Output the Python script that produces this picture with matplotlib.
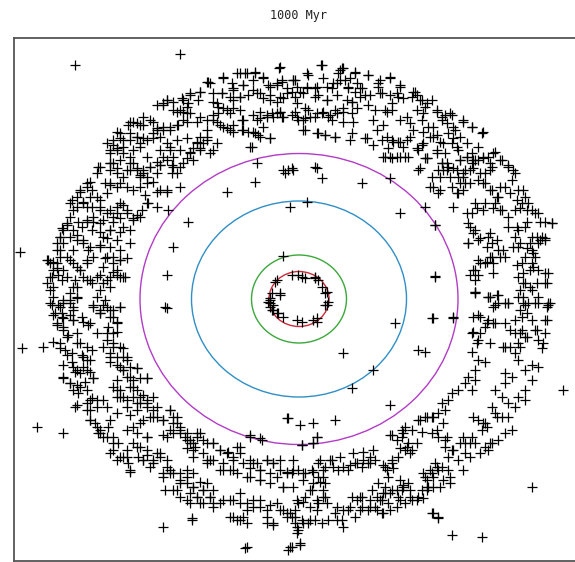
import matplotlib
matplotlib.use("Agg")
import matplotlib.pyplot as plt
from matplotlib.patches import Ellipse
import numpy as np

title = "1000 Myr"

# particle positions (image-pixel coordinates, y downward)
pts_top_left = [
(180,54),(75,65),(279,68),(240,73),(247,73),(255,73),(208,82),(223,78),
(233,88),(243,85),(253,80),(263,78),(270,87),(277,83),(282,80),(287,88),
(222,93),(233,100),(240,97),(248,95),(257,93),(263,98),(270,100),(277,102),(283,98),
(200,92),(190,95),(183,100),(173,102),(167,100),(163,105),
(213,102),(218,107),(227,110),(233,108),(240,110),
(280,112),(282,117),(273,117),(267,115),(260,118),(253,115),(243,120),(242,130),(248,132),
(255,133),(260,137),(270,138),(252,147),
(213,115),(217,122),(223,127),(230,130),(233,125),
(130,122),(137,123),(143,125),(153,122),(157,130),(163,127),(170,130),(177,125),(183,120),
(187,113),(180,110),(173,110),(187,107),
(200,117),(207,120),(207,130),(200,137),(197,143),(193,148),(190,153),(187,158),(200,148),
(210,153),(217,143),(207,140),
(117,132),(120,138),(113,145),(110,153),(117,150),(123,147),(130,140),(137,137),(140,143),
(147,140),(153,133),(160,137),(167,143),(170,150),(163,157),(157,162),(150,167),(143,173),
(140,177),(137,170),(133,163),(130,157),(127,170),(123,177),(117,173),(110,163),(100,167),
(97,173),(90,182),(87,187),(80,190),(77,197),(83,202),(90,197),(100,200),(107,193),(110,183),
(120,183),(127,187),(133,190),(140,187),(147,183),(153,182),(160,190),(167,190),(173,167),
(180,167),(172,173),(180,187),
(157,207),(147,203),(142,210),(137,215),(133,220),(130,230),(123,227),(117,213),(120,203),(127,210),
(67,223),(63,230),(60,237),(57,243),(60,250),(67,257),(73,263),(80,270),(87,263),(93,257),
(90,247),(83,243),(77,240),(73,230),(70,217),(77,207),(70,203),(87,207),(100,207),(107,213),
(113,217),(110,230),(103,237),(100,247),(107,257),(113,263),(120,260),(117,270),(110,277),
(103,283),(97,277),(90,280),(83,277),(77,287),(70,293),(63,300),(53,297),(50,290),(47,283),
(50,277),(53,270),(50,263),(47,260),(57,263),(63,270),(67,277),
(100,223),(93,217),(87,220),(82,227),(120,277),(125,277),
(257,163),(285,173),(255,182),(227,192),(168,210),(188,222),(173,247),(167,275),(165,307),(20,252),
]

pts_top_right = [
(321,65),(342,68),(355,73),(368,75),(338,73),(308,75),(295,80),(292,92),(300,92),(307,87),
(315,88),(318,95),(327,100),(332,88),(337,83),(345,80),(348,87),(355,92),(362,88),(365,95),
(378,83),(382,93),(390,78),(400,87),(398,97),(392,103),(385,110),(375,110),(368,105),(357,108),
(352,102),(343,112),(335,110),(328,117),(322,113),(315,117),(308,110),(305,118),(298,120),
(292,115),(303,130),(318,133),(325,135),(335,137),(352,133),(365,138),(373,145),(382,140),
(388,148),(392,140),(398,142),(403,147),(410,137),(385,157),(392,158),(400,157),(408,157),
(418,150),(422,145),(418,170),(425,158),(415,92),(420,100),(412,97),(425,107),(432,100),
(437,112),(442,120),(445,115),(452,115),(463,120),(472,127),(482,133),(422,120),(428,127),
(433,137),(440,142),(448,133),(455,130),(460,137),(467,143),(478,147),(472,153),(458,150),
(452,143),(445,153),(442,163),(448,167),(438,170),(432,177),(430,187),(438,193),(452,187),
(458,193),(465,183),(458,177),(465,170),(472,163),(478,160),(488,157),(495,152),(502,160),
(508,167),(515,173),(512,180),(505,187),(498,197),(492,190),(485,183),(478,180),(485,173),
(492,167),(518,190),(525,197),(532,210),(538,213),(545,222),(552,223),(528,203),(522,203),
(515,210),(508,217),(502,210),(495,203),(485,203),(475,203),(472,213),(468,223),(475,230),
(468,243),(478,240),(488,237),(492,243),(498,250),(505,257),(492,257),(485,263),(478,260),
(475,270),(475,280),(475,292),(488,297),(498,303),(508,303),(518,277),(525,283),(532,290),
(538,297),(545,283),(548,273),(538,270),(532,263),(525,257),(518,247),(515,237),(518,230),
(525,227),(532,237),(538,243),(542,237),(545,240),(532,250),(535,257),(522,263),(523,297),
(548,303),(528,303),
(315,167),(322,178),(362,183),(400,213),(288,170),(290,207),(307,202),(435,277),(390,178),
(425,207),(435,225),
]

pts_bottom_left = [
(50,303),(58,305),(70,303),(77,298),(53,315),(62,317),(73,320),(83,322),(90,323),(57,323),
(63,327),(67,337),(53,342),(60,348),(67,355),(72,362),(77,370),(83,367),(90,372),(93,378),
(87,360),(82,355),(87,347),(77,343),(63,377),(70,383),(73,390),(80,387),(77,405),(90,400),
(97,407),(87,410),(90,420),(97,427),(100,433),(107,437),(113,443),(110,453),(117,460),
(123,457),(130,470),(127,450),(133,443),(140,447),(147,450),(143,460),(153,463),(160,453),
(167,460),(170,470),(163,477),(165,490),(173,490),(180,483),(187,477),(193,487),(197,497),
(203,490),(210,497),(213,507),(220,503),(230,500),(240,503),(247,510),(253,500),(260,507),
(267,517),(273,523),(280,510),(287,513),(233,517),(240,520),(247,523),(180,497),(187,500),
(200,503),(187,470),
(100,310),(110,317),(117,323),(113,333),(107,340),(113,347),(123,348),(127,357),(110,357),
(117,365),(123,370),(130,377),(137,368),(147,378),(133,387),(140,397),(147,403),(153,417),
(143,420),(137,403),(127,400),(120,397),(117,390),(117,380),(157,407),(163,420),(170,410),
(173,423),(180,433),(187,440),(193,443),(200,433),(207,443),(213,443),(220,450),(227,453),
(233,457),(240,447),(243,463),(253,463),(260,470),(267,460),(273,463),(280,470),(287,473),
(283,487),(260,480),(247,477),(233,470),(223,470),(210,460),(203,453),(193,450),(167,437),
(147,437),(207,463),(193,457),
(167,308),(287,418),(250,435),(260,438),
(22,348),(43,347),(37,427),(63,433),(163,527),(192,520),(245,548),(288,550),
]

pts_bottom_right = [
(475,293),(488,297),(498,295),(495,305),(505,303),(518,297),(525,305),(538,303),(548,305),
(478,315),(488,320),(495,323),(485,327),(505,323),(515,320),(522,317),(532,320),(545,320),
(522,330),(515,333),(525,337),(535,330),(545,333),(538,340),(542,348),(518,343),(515,353),
(505,347),(518,360),(525,370),(532,365),(538,367),(532,380),(525,390),(518,397),(525,400),
(515,407),(508,403),(502,397),(495,390),(505,383),(512,377),(505,373),(492,407),(495,413),
(502,417),(508,417),(512,430),(505,433),(498,440),(492,443),(485,447),(488,450),(482,430),
(485,423),(478,420),(475,443),(472,437),(465,443),(465,453),(458,460),(452,450),(445,447),
(448,457),(442,467),(435,463),(432,473),(425,477),(428,487),(422,490),(418,497),(412,500),
(405,503),(398,497),(392,490),(385,493),(382,500),(375,507),(368,510),(362,507),(355,517),
(348,510),(342,520),(335,513),(328,520),(322,523),(315,520),(308,523),(302,520),(295,523),
(292,517),(298,530),(292,547),(300,543),(382,513),(388,503),(402,490),(408,483),(438,470),
(448,470),
(472,333),(478,340),(472,352),(478,360),(485,362),(475,370),(468,377),(465,383),(475,380),
(472,390),(458,390),(452,393),(448,400),(442,403),(445,410),(438,413),(432,417),(425,417),
(418,420),(422,432),(432,433),(438,437),(445,440),(412,430),(405,427),(402,437),(408,443),
(412,450),(405,450),(398,457),(392,460),(385,467),(375,460),(368,463),(362,467),(355,463),
(348,470),(338,470),(332,460),(325,467),(318,463),(312,470),(305,473),(298,470),(292,473),
(318,477),(325,483),(312,490),(305,497),(298,503),(295,510),(318,503),(325,497),(352,497),
(362,497),(372,490),(378,483),(385,487),(388,477),(392,463),
(395,323),(432,318),(453,318),(343,353),(418,350),(425,352),(373,370),(352,388),(390,405),
(288,418),(300,425),(313,423),(335,420),(317,437),(302,445),(313,443),(392,435),(402,430),
(563,390),(532,487),(452,535),(482,537),(432,513),(438,518),
]

pts_inner = [
(283,256),(275,282),(280,293),(292,275),(298,275),(302,277),(305,278),(315,277),(318,280),
(327,292),(328,302),(327,305),(270,298),(268,302),(270,307),(272,310),(278,313),(283,317),
(297,320),(302,322),(313,320),(317,318),(270,303),(273,305),(277,280),(272,293),(280,295),
(270,300),(273,310),(277,313),(322,287),(325,293),(315,278),(325,305),(317,322),
]

pts_extra_left = [
(98,167),(110,163),(117,168),(130,170),(140,175),(147,177),(157,173),(160,165),(172,165),(177,173),
(157,192),(167,192),(145,195),(148,203),(97,197),(87,183),(80,192),(92,190),(105,183),(110,185),
(117,187),(72,200),(73,210),(83,203),(92,207),(100,210),(110,210),(117,207),(123,205),(127,213),
(133,218),(140,217),(120,218),(113,222),(103,220),(93,222),(87,222),(78,222),(67,225),(62,228),
(60,237),(63,243),(70,237),(77,235),(83,240),(92,230),(100,232),(110,230),(120,232),(117,240),
(107,238),(100,245),(110,247),(120,250),(130,243),(113,257),(120,260),(127,258),(105,258),(103,267),
(100,275),(107,280),(110,287),(117,275),(123,277),(113,272),(57,250),(60,257),(48,260),(53,262),
(70,260),(77,267),(80,270),(87,260),(88,250),(73,250),(57,268),(52,277),(58,275),(62,280),
(53,287),(73,287),(75,280),(87,280),(92,283),(100,290),(97,297),(105,300),(107,307),(113,310),
(120,307),(93,307),(100,313),(77,297),(70,300),(63,303),(73,307),(52,305),(55,313),(62,313),
(70,315),(82,317),
(60,307),(73,310),(63,318),(73,320),(88,325),(57,325),(63,330),(68,335),(77,333),(80,343),
(92,350),(60,343),(65,350),(72,353),(83,357),(90,360),(63,365),(73,367),(75,372),(80,373),
(87,370),(93,378),(63,378),(70,383),(77,385),(78,393),(87,390),(85,382),(92,398),(87,403),
(75,407),(90,410),(97,400),(103,400),(107,407),(90,420),(95,423),(100,430),(103,437),(98,433),
(108,427),(110,420),(117,413),(113,437),(118,443),(113,450),(120,457),(127,457),(128,463),(130,472),
(137,447),(138,457),(143,460),(147,455),(153,460),(150,467),(160,457),(167,467),(163,473),(170,473),
(180,473),(193,473),
(93,305),(103,305),(100,313),(110,310),(120,307),(113,317),(117,322),(108,327),(97,333),(107,333),
(117,332),(113,343),(120,347),(103,347),(110,353),(117,357),(123,357),(127,360),(110,362),(120,367),
(123,370),(130,367),(137,368),(127,377),(133,380),(140,378),(147,378),(113,387),(120,390),(130,387),
(137,390),(117,397),(123,397),(133,397),(143,395),(147,400),(153,397),(140,403),(147,407),(137,410),
(127,407),(130,415),(153,410),(157,417),(163,420),(150,417),(170,410),(173,417),(177,423),(180,430),
(170,430),(163,435),(147,437),(187,433),(190,440),(197,437),(187,448),(195,447),(140,423),(133,427),
(127,430),(137,433),(157,453),
]

pts_extra_top = [
(280,67),(237,73),(245,73),(255,72),(263,77),(223,77),(207,82),(210,83),(232,83),(243,85),
(253,90),(260,93),(268,85),(277,85),(282,82),(293,80),(270,95),(280,97),(287,93),(297,103),
(280,112),(277,113),(283,117),(272,113),(267,117),(260,112),(257,120),(263,127),(253,132),(258,135),
(270,138),(250,147),(233,90),(240,97),(230,97),(222,93),(213,93),(217,103),(223,108),(230,113),
(218,113),(213,120),(220,125),(227,128),(233,132),(242,120),(243,130),(200,92),(198,100),(190,93),
(182,98),(188,103),(167,100),(163,103),(157,105),(177,112),(183,112),(190,113),(197,122),(187,122),
(178,125),(170,127),(163,130),(157,128),(150,120),(143,117),(133,122),(128,125),(140,125),(153,138),
(143,138),(137,137),(130,133),(120,133),(123,140),(113,140),(107,143),(110,150),(117,148),(123,153),
(133,150),(140,147),(147,157),(160,150),(170,147),(177,140),(187,138),(197,142),(203,143),(207,137),
(213,150),(200,150),(190,152),(180,150),(173,157),(167,160),(160,165),(150,167),(143,170),(137,168),
(130,163),(120,160),(113,163),(110,170),(193,160),(183,163),(283,170),(292,168),
(322,65),(340,70),(343,68),(355,72),(368,75),(307,73),(293,80),(323,78),(333,83),(340,80),
(350,78),(357,83),(380,80),(390,77),(400,85),(378,87),(360,88),(348,88),(327,87),(317,87),
(307,88),(297,87),(295,97),(303,93),(315,97),(327,100),(337,95),(347,100),(352,102),(360,97),
(370,95),(380,93),(390,95),(397,93),(403,98),(413,92),(417,95),(422,100),(295,112),(305,108),
(297,117),(303,120),(310,117),(317,113),(323,112),(330,115),(337,113),(343,108),(352,113),(353,122),
(343,122),(332,120),(305,130),(317,133),(325,135),(335,137),(350,140),(367,138),(377,130),(373,120),
(383,125),(387,112),(392,110),(400,120),(407,117),(410,123),(417,110),(423,113),(427,103),(437,110),
(442,117),(450,113),(447,123),(453,127),(463,122),(472,127),(483,132),(433,127),(437,135),(430,137),
(423,132),(413,130),(387,137),(393,142),(400,142),(407,140),(383,157),(390,157),(397,157),(405,157),
(417,148),(423,143),(427,158),(420,168),(437,150),(443,143),(453,138),(457,147),(447,163),(453,168),
(460,160),(467,157),(475,160),(483,157),(490,163),(443,170),(463,173),(473,168),(293,170),(317,168),
]

pts_extra_right = [
(427,158),(437,153),(442,163),(447,170),(440,177),(433,187),(440,190),(450,177),(457,170),(460,160),
(467,157),(473,160),(483,158),(493,153),(500,160),(508,165),(513,170),(490,170),(480,173),(470,170),
(463,177),(460,183),(457,193),(463,190),(470,183),(483,183),(490,190),(500,187),(497,197),(510,193),
(517,200),(523,190),(520,208),(527,210),(535,213),(540,222),(552,223),(527,222),(517,227),(508,227),
(500,210),(493,208),(483,210),(477,208),(467,213),(453,207),(470,227),(473,233),(480,238),(490,233),
(497,240),(487,247),(490,257),(487,262),(493,263),(500,257),(503,250),(480,263),(473,270),(478,275),
(493,273),(468,243),(513,247),(520,243),(527,248),(533,253),(540,240),(545,238),(537,237),(530,243),
(517,265),(523,273),(530,270),(533,267),(545,273),(547,283),(523,283),(520,290),(530,287),(537,283),
(523,303),(520,310),(527,313),(535,303),(547,307),(550,303),(547,320),(508,303),(490,297),(497,295),
(493,307),(480,317),(487,323),(493,323),(473,332),(480,333),(490,343),(477,343),(473,317),(510,330),
(520,333),(527,337),(537,330),(520,347),(510,347),(543,343),(503,347),
(435,276),(433,318),(453,317),(435,225),(475,292),(470,275),
]

pts_extra_bottom = [
(250,437),(262,440),(302,445),(313,443),(317,437),
(177,417),(180,427),(173,433),(185,437),(190,443),(197,433),(203,440),(213,443),(220,450),(228,452),
(237,447),(240,453),(207,460),(213,460),(223,463),(233,460),(250,460),(257,463),(267,460),(273,463),
(280,460),(293,460),(220,470),(230,470),(237,473),(250,468),(260,470),(270,473),(277,477),(287,472),
(293,470),(303,473),(313,472),(323,470),(333,467),(343,467),(350,465),(357,463),(363,460),(370,463),
(320,460),(330,460),(340,457),(353,453),(363,452),(373,450),(370,457),(250,477),(260,480),(270,483),
(283,487),(293,487),(303,480),(313,483),(320,482),(323,477),(310,490),(323,490),(387,470),(393,468),
(383,465),(173,473),(180,480),(187,483),(193,487),(200,482),(207,483),(213,490),(203,490),(177,490),
(190,493),(197,497),(210,497),(213,503),(203,503),(190,503),(223,500),(233,500),(240,493),(247,503),
(253,507),(260,500),(267,510),(270,505),(277,503),(283,510),(290,513),(295,517),(287,517),(297,500),
(303,502),(310,507),(317,500),(323,497),(327,503),(317,510),(310,520),(303,523),(297,527),(267,523),
(273,525),(230,517),(237,520),(243,517),(192,518),(337,507),(343,510),(337,520),(343,527),(350,507),
(357,500),(360,510),(370,507),(377,510),(383,513),(377,497),(383,493),(390,493),(397,490),(403,487),
(410,497),(417,500),(423,498),(427,490),(400,500),(397,507),(390,510),(370,500),(380,500),(360,497),
(423,473),(430,470),(437,467),(427,480),(433,477),(443,480),(450,477),(450,483),(440,487),(433,487),
(427,487),(400,480),(403,485),(410,490),(433,513),(438,517),(297,533),(300,545),(247,547),(290,547),
(390,435),(397,440),(403,433),(407,447),(400,448),(410,453),(417,443),(420,420),(427,417),(433,417),
(437,430),(443,423),(447,437),(453,450),(460,443),(463,437),(470,443),(470,457),(463,470),(480,453),
(487,427),(490,443),(497,417),(483,423),(473,417),
]

# orbit ellipses (centre and half-axes in image pixels)
orbit_center = (299, 299)
orbit_rx = [30, 47.5, 107.5, 159]
orbit_ry = [27.5, 44, 98, 145.5]
orbit_colors = ["#cc2a3a", "#3aa83a", "#2f8fc6", "#b23cc6"]

W, H = 575, 562
fig = plt.figure(figsize=(W / 100, H / 100), dpi=100)
fig.patch.set_facecolor("white")
ax = fig.add_axes([14 / W, 1 / H, 562 / W, 523 / H])
ax.set_xlim(14, 576)
ax.set_ylim(561, 38)

for rx, ry, c in zip(orbit_rx, orbit_ry, orbit_colors):
    ax.add_patch(Ellipse(orbit_center, 2 * rx, 2 * ry, fill=False,
                         edgecolor=c, linewidth=1.0, zorder=2))

groups = (pts_top_left, pts_top_right, pts_bottom_left, pts_bottom_right, pts_inner,
          pts_extra_left, pts_extra_top, pts_extra_right, pts_extra_bottom)
for pts in groups:
    arr = np.array(pts, dtype=float)
    ax.plot(arr[:, 0], arr[:, 1], linestyle="none", marker="+", markersize=7,
            markeredgewidth=0.9, color="black", zorder=3)

ax.set_xticks([])
ax.set_yticks([])
for s in ax.spines.values():
    s.set_color("#555555")
    s.set_linewidth(1.3)

fig.text(298 / W, 1 - 16 / H, title, ha="center", va="center",
         family="DejaVu Sans Mono", fontsize=8.5, color="#222222")

fig.savefig("out.png", dpi=100)
